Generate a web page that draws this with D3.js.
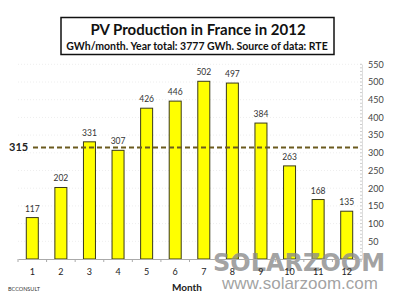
<!DOCTYPE html>
<html>
<head>
<meta charset="utf-8">
<script src="https://cdn.jsdelivr.net/npm/d3@7"></script>
<style>
  body { margin: 0; background: #fff; }
  svg { display: block; font-family: Lato, "Open Sans", sans-serif; }
</style>
</head>
<body>
<div id="chart"></div>
<script>
// data
let months = ["1", "2", "3", "4", "5", "6", "7", "8", "9", "10", "11", "12"];
let production = [117, 202, 331, 307, 426, 446, 502, 497, 384, 263, 168, 135];
let average = 315;
let yTicks = [50, 100, 150, 200, 250, 300, 350, 400, 450, 500, 550];

let width = 415, height = 308;
let svg = d3.select("#chart").append("svg")
    .attr("width", width)
    .attr("height", height);

let x = d3.scaleBand()
    .domain(months)
    .range([18, 361])
    .paddingInner(0.58)
    .paddingOuter(0.29);

let y = d3.scaleLinear()
    .domain([0, 550])
    .range([259, 64.3]);

// faint grid
svg.selectAll(".grid")
    .data(yTicks)
    .join("line")
    .attr("x1", 18).attr("x2", 361)
    .attr("y1", d => y(d)).attr("y2", d => y(d))
    .attr("stroke", "#eee")
    .attr("stroke-dasharray", "1,2");

// bars
svg.selectAll(".bar")
    .data(production)
    .join("rect")
    .attr("x", (d, i) => x(months[i]))
    .attr("y", d => y(d))
    .attr("width", x.bandwidth())
    .attr("height", d => y(0) - y(d))
    .attr("fill", "#ffff00")
    .attr("stroke", "#3a3a1a")
    .attr("stroke-width", 1);

// value labels
svg.selectAll(".val")
    .data(production)
    .join("text")
    .attr("x", (d, i) => x(months[i]) + x.bandwidth() / 2)
    .attr("y", d => y(d) - 6)
    .attr("text-anchor", "middle")
    .style("font-size", "8.5px")
    .attr("fill", "#333")
    .text(d => d);

// average line
svg.append("line")
    .attr("x1", 33).attr("x2", 359)
    .attr("y1", y(average)).attr("y2", y(average))
    .attr("stroke", "#6b5a1e")
    .attr("stroke-width", 2)
    .attr("stroke-dasharray", "5,3");
svg.append("text")
    .attr("x", 9).attr("y", y(average) + 4)
    .style("font-size", "11px")
    .style("font-weight", "bold")
    .attr("fill", "#222")
    .text(average);

// watermark (sits behind the axis labels)
svg.append("text")
    .attr("x", 299).attr("y", 271)
    .attr("text-anchor", "middle")
    .style("font-size", "24px")
    .style("font-weight", "bold")
    .style("font-family", "'DejaVu Sans', sans-serif")
    .attr("fill", "#8a8a8a")
    .attr("fill-opacity", 0.8)
    .text("SOLARZOOM");
svg.append("text")
    .attr("x", 300).attr("y", 289)
    .attr("text-anchor", "middle")
    .style("font-size", "17px")
    .style("font-family", "'Liberation Sans', sans-serif")
    .attr("fill", "#8a8a8a")
    .attr("fill-opacity", 0.8)
    .text("www.solarzoom.com");

// x axis
let xAxis = svg.append("g")
    .attr("transform", "translate(0," + y(0) + ")")
    .call(d3.axisBottom(x).tickSize(0).tickPadding(10));
xAxis.select(".domain").attr("stroke", "#aaa");
xAxis.selectAll("text").style("font-size", "9px").style("font-family", "Lato, sans-serif").attr("fill", "#222");
// separators between months
svg.selectAll(".sep")
    .data(d3.range(months.length + 1))
    .join("line")
    .attr("x1", i => 18 + i * x.step()).attr("x2", i => 18 + i * x.step())
    .attr("y1", y(0)).attr("y2", y(0) + 3)
    .attr("stroke", "#aaa");

// right y axis
let yAxis = svg.append("g")
    .attr("transform", "translate(362,0)")
    .call(d3.axisRight(y).tickValues(yTicks).tickSize(0).tickPadding(6));
yAxis.select(".domain").attr("stroke", "#bbb").attr("stroke-dasharray", "1,1");
yAxis.selectAll("text").style("font-size", "9px").style("font-family", "Lato, sans-serif").attr("fill", "#444");
svg.selectAll(".minor")
    .data(d3.range(0, 551, 10))
    .join("line")
    .attr("x1", 360).attr("x2", 362)
    .attr("y1", d => y(d)).attr("y2", d => y(d))
    .attr("stroke", "#ccc");

// axis title
svg.append("text")
    .attr("x", 187).attr("y", 291)
    .attr("text-anchor", "middle")
    .style("font-size", "10px")
    .style("font-weight", "bold")
    .attr("fill", "#222")
    .text("Month");

svg.append("text")
    .attr("x", 8).attr("y", 291)
    .style("font-size", "5.5px")
    .attr("fill", "#333")
    .text("BCCONSULT");

// title box
svg.append("rect")
    .attr("x", 61).attr("y", 17.5)
    .attr("width", 273).attr("height", 37)
    .attr("fill", "#fff")
    .attr("stroke", "#111")
    .attr("stroke-width", 1.5);
svg.append("text")
    .attr("x", 198).attr("y", 35)
    .attr("text-anchor", "middle")
    .style("font-size", "15px")
    .style("font-weight", "bold")
    .attr("fill", "#111")
    .text("PV Production in France in 2012");
svg.append("text")
    .attr("x", 197).attr("y", 50)
    .attr("text-anchor", "middle")
    .style("font-size", "10.5px")
    .style("font-weight", "bold")
    .attr("fill", "#111")
    .text("GWh/month. Year total: 3777 GWh. Source of data: RTE");
</script>
</body>
</html>
